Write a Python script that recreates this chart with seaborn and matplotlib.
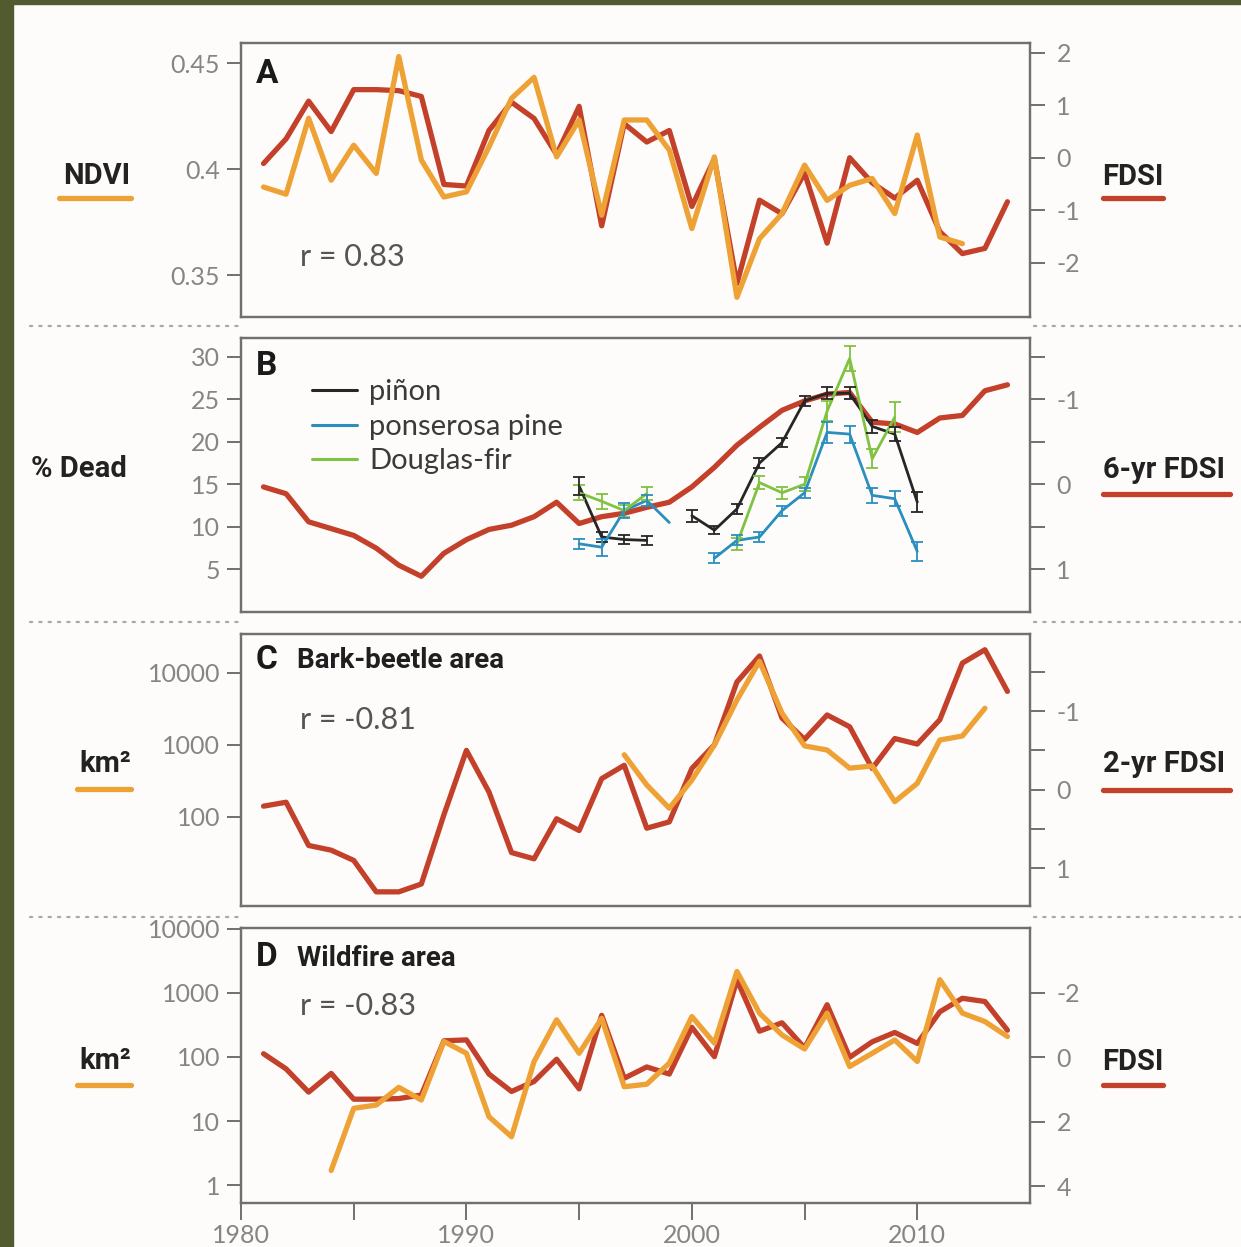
import numpy as np
import pandas as pd
import seaborn as sns
import matplotlib.pyplot as plt
from matplotlib.lines import Line2D
from matplotlib.patches import Rectangle

# ---- data ----
YEARS = list(range(1981, 2015))

# FDSI (panels A and D)
fdsi = [-0.11, 0.36, 1.08, 0.50, 1.30, 1.30, 1.28, 1.17, -0.51, -0.54,
        0.52, 1.06, 0.75, 0.06, 0.98, -1.30, 0.65, 0.30, 0.52, -0.93,
        -0.02, -2.40, -0.81, -1.07, -0.29, -1.63, 0.00, -0.48, -0.77, -0.43,
        -1.41, -1.83, -1.73, -0.84]

NDVI_YEARS = list(range(1981, 2013))
ndvi = [0.3916, 0.3882, 0.4240, 0.3948, 0.4113, 0.3980, 0.4531, 0.4043, 0.3869, 0.3893,
        0.4105, 0.4334, 0.4433, 0.4058, 0.4232, 0.3783, 0.4232, 0.4232, 0.4090, 0.3720,
        0.4058, 0.3396, 0.3672, 0.3791, 0.4019, 0.3853, 0.3924, 0.3956, 0.3791, 0.4161,
        0.3680, 0.3649]

fdsi_6yr = [0.03, 0.11, 0.44, 0.52, 0.60, 0.75, 0.95, 1.08, 0.81, 0.65,
            0.53, 0.48, 0.38, 0.21, 0.46, 0.38, 0.34, 0.27, 0.21, 0.03,
            -0.20, -0.46, -0.67, -0.87, -0.98, -1.06, -1.08, -0.73, -0.71, -0.61,
            -0.78, -0.81, -1.10, -1.17]

SP_YEARS = list(range(1995, 2011))
nan = np.nan
pinon = [14.8, 8.8, 8.5, 8.4, nan, 11.3, 9.6, 12.1, 17.5, 19.9, 24.8, 25.7, 25.7, 21.8, 20.9, 12.9]
pinon_err = [1.1, 0.6, 0.5, 0.5, nan, 0.7, 0.5, 0.6, 0.6, 0.5, 0.6, 0.7, 0.7, 0.8, 0.8, 1.2]
ponderosa = [8.0, 7.6, 11.9, 13.1, 10.5, nan, 6.3, 8.4, 8.8, 11.9, 14.0, 21.1, 20.9, 13.7, 13.3, 7.1]
ponderosa_err = [0.6, 1.0, 0.9, 0.6, nan, nan, 0.6, 0.6, 0.6, 0.6, 0.6, 1.2, 1.0, 0.9, 0.9, 1.1]
douglas = [14.0, 13.0, 11.9, 13.9, nan, nan, nan, 8.0, 15.2, 14.0, 15.0, 23.6, 29.8, 18.0, 22.9, nan]
douglas_err = [0.9, 0.9, 0.7, 0.8, nan, nan, nan, 0.7, 0.8, 0.7, 0.8, 1.2, 1.5, 1.1, 1.8, nan]

fdsi_2yr = [0.21, 0.16, 0.71, 0.77, 0.90, 1.30, 1.30, 1.20, 0.32, -0.50,
            0.03, 0.80, 0.88, 0.37, 0.52, -0.14, -0.31, 0.49, 0.41, -0.27,
            -0.57, -1.37, -1.70, -0.91, -0.64, -0.95, -0.80, -0.27, -0.65, -0.58,
            -0.89, -1.61, -1.78, -1.25]

BEETLE_YEARS = list(range(1997, 2014))
beetle_area = [730, 278, 132, 326, 1000, 4200, 14500, 2760, 970, 850,
               476, 510, 163, 293, 1170, 1330, 3230]

FIRE_YEARS = list(range(1984, 2015))
fire_area = [1.7, 15.8, 17.8, 33.6, 21.3, 174, 114, 11.7, 5.7, 84.6,
             380, 114, 400, 34.3, 37.6, 80, 426, 164, 2150, 482,
             220, 133, 482, 71, 114, 184, 85, 1600, 482, 356, 208]

# ---- style ----
sns.set_style("ticks")
plt.rcParams["font.family"] = ["Lato", "DejaVu Sans"]
plt.rcParams["axes.unicode_minus"] = False

RED = "#c3402a"
ORANGE = "#eea235"
BG = "#fdfcfa"
SPINE = "#707070"
TICKLAB = "#858585"
SP_COLORS = {"piñon": "#262626", "ponserosa pine": "#2a8fbf", "Douglas-fir": "#80c241"}

W, H = 1241, 1247
fig = plt.figure(figsize=(W / 100, H / 100), dpi=100)
fig.patch.set_facecolor(BG)


def fx(x):
    return x / W


def fy(y):
    return 1 - y / H


# olive frame
fig.add_artist(Rectangle((0, 0), fx(13), 1, transform=fig.transFigure, color="#515b2f", zorder=0))
fig.add_artist(Rectangle((0, fy(4)), 1, 1, transform=fig.transFigure, color="#515b2f", zorder=0))

LEFT, RIGHT = 241, 1030
panels_px = [(43, 317), (338, 612), (634, 906), (928, 1203)]


def make_axes(top, bottom):
    ax = fig.add_axes([fx(LEFT), fy(bottom), (RIGHT - LEFT) / W, (bottom - top) / H])
    ax2 = ax.twinx()
    ax.set_zorder(ax2.get_zorder() + 1)
    ax.patch.set_visible(False)
    ax2.patch.set_visible(True)
    ax2.patch.set_facecolor(BG)
    for a in (ax, ax2):
        for s in a.spines.values():
            s.set_visible(True)
            s.set_color(SPINE)
            s.set_linewidth(1.6)
        a.minorticks_off()
    ax.tick_params(axis="y", right=False, length=10, width=1.4, color=SPINE,
                   labelcolor=TICKLAB, labelsize=18, pad=5)
    ax2.tick_params(axis="y", length=11, width=1.4, color=SPINE,
                    labelcolor=TICKLAB, labelsize=18, pad=8)
    ax.set_xlim(1980, 2015)
    return ax, ax2


line_kw = dict(linewidth=3.8, solid_joinstyle="round", solid_capstyle="round")

axes = [make_axes(t, b) for t, b in panels_px]

# ---- Panel A ----
ax, ax2 = axes[0]
sns.lineplot(x=YEARS, y=fdsi, ax=ax2, color=RED, **line_kw)
sns.lineplot(x=NDVI_YEARS, y=ndvi, ax=ax, color=ORANGE, **line_kw)
ax.set_ylim(0.3303, 0.4595)
ax.set_yticks([0.35, 0.40, 0.45], ["0.35", "0.4", "0.45"])
ax2.set_ylim(-3.04, 2.19)
ax2.set_yticks([-2, -1, 0, 1, 2], ["-2", "-1", "0", "1", "2"])

# ---- Panel B ----
ax, ax2 = axes[1]
sns.lineplot(x=YEARS, y=fdsi_6yr, ax=ax2, color=RED, **line_kw)
sp_df = pd.DataFrame({
    "year": SP_YEARS * 3,
    "dead": pinon + ponderosa + douglas,
    "err": pinon_err + ponderosa_err + douglas_err,
    "species": ["piñon"] * 16 + ["ponserosa pine"] * 16 + ["Douglas-fir"] * 16,
})
# split each species into unbroken runs so gaps are not bridged
sp_df["seg"] = sp_df.groupby("species")["dead"].transform(lambda s: s.isna().cumsum())
plot_df = sp_df.dropna(subset=["dead"])
sns.lineplot(data=plot_df, x="year", y="dead", hue="species", units="seg", estimator=None,
             palette=SP_COLORS, ax=ax, linewidth=2.0, legend=False)
for name, grp in plot_df.groupby("species"):
    ax.errorbar(grp["year"], grp["dead"], yerr=grp["err"], fmt="none",
                ecolor=SP_COLORS[name], elinewidth=1.3, capsize=4, capthick=1.3)
ax.set_ylim(-0.02, 32.2)
ax.set_yticks([5, 10, 15, 20, 25, 30], ["5", "10", "15", "20", "25", "30"])
ax2.set_ylim(1.5, -1.72)
ax2.set_yticks([-1.5, -1, -0.5, 0, 0.5, 1], ["", "-1", "", "0", "", "1"])
handles = [Line2D([], [], color=c, lw=2.2) for c in SP_COLORS.values()]
leg = ax.legend(handles, list(SP_COLORS.keys()), loc="upper left",
                bbox_to_anchor=((312 - LEFT) / (RIGHT - LEFT), (612 - 379) / 274),
                frameon=False, fontsize=21, handlelength=1.55, handletextpad=0.4,
                labelspacing=0.3, borderaxespad=0, borderpad=0)
for t in leg.get_texts():
    t.set_color("#3a3a3a")

# ---- Panel C ----
ax, ax2 = axes[2]
sns.lineplot(x=YEARS, y=fdsi_2yr, ax=ax2, color=RED, **line_kw)
sns.lineplot(x=BEETLE_YEARS, y=beetle_area, ax=ax, color=ORANGE, **line_kw)
ax.set_yscale("log")
ax.set_ylim(10 ** 0.764, 10 ** 4.54)
ax.set_yticks([100, 1000, 10000], ["100", "1000", "10000"])
ax.minorticks_off()
ax2.set_ylim(1.48, -1.98)
ax2.set_yticks([-1.5, -1, -0.5, 0, 0.5, 1], ["", "-1", "", "0", "", "1"])

# ---- Panel D ----
ax, ax2 = axes[3]
sns.lineplot(x=YEARS, y=fdsi, ax=ax2, color=RED, **line_kw)
sns.lineplot(x=FIRE_YEARS, y=fire_area, ax=ax, color=ORANGE, **line_kw)
ax.set_yscale("log")
ax.set_ylim(10 ** -0.277, 10 ** 4.01)
ax.set_yticks([1, 10, 100, 1000, 10000], ["1", "10", "100", "1000", "10000"])
ax.minorticks_off()
ax2.set_ylim(4.52, -4.01)
ax2.set_yticks([-2, 0, 2, 4], ["-2", "0", "2", "4"])

# x axis: only bottom panel gets ticks
for i, (ax, ax2) in enumerate(axes):
    ax.set_xlim(1980, 2015)
    ax.set_xlabel("")
    ax.set_ylabel("")
    ax2.set_ylabel("")
    if i < 3:
        ax.tick_params(axis="x", bottom=False, labelbottom=False)
    else:
        ax.set_xticks([1980, 1985, 1990, 1995, 2000, 2005, 2010],
                      ["1980", "", "1990", "", "2000", "", "2010"])
        ax.tick_params(axis="x", length=12, width=1.4, color=SPINE, labelcolor=TICKLAB,
                       labelsize=18, pad=3)

# ---- panel letters, titles, r values ----
letter_kw = dict(fontsize=24, fontweight="bold", family=["Roboto", "DejaVu Sans"], color="#1a1a1a",
                 va="center", ha="left")
title_kw = dict(fontsize=20, fontweight="bold", family=["Roboto", "DejaVu Sans"], color="#1f1f1f",
                va="center", ha="left")
r_kw = dict(fontsize=22, color="#555555", va="center", ha="left")

fig.text(fx(256), fy(74), "A", **letter_kw)
fig.text(fx(256), fy(366), "B", **letter_kw)
fig.text(fx(256), fy(660), "C", **letter_kw)
fig.text(fx(297), fy(661), "Bark-beetle area", **title_kw)
fig.text(fx(256), fy(957), "D", **letter_kw)
fig.text(fx(297), fy(959), "Wildfire area", **title_kw)
fig.text(fx(300), fy(257), "r = 0.83", **r_kw)
fig.text(fx(300), fy(720), "r = -0.81", **r_kw)
fig.text(fx(300), fy(1006), "r = -0.83", **r_kw)

# ---- side labels with colour keys ----
lab_kw = dict(fontsize=21, fontweight="bold", family=["Roboto", "DejaVu Sans"], color="#222222",
              ha="center", va="center")


def key_line(x0, x1, y, color):
    fig.add_artist(Line2D([fx(x0), fx(x1)], [fy(y), fy(y)], transform=fig.transFigure,
                          color=color, lw=3.8, solid_capstyle="round"))


fig.text(fx(97), fy(176), "NDVI", **lab_kw)
key_line(59, 131, 198, ORANGE)
fig.text(fx(79), fy(469), "% Dead", **lab_kw)
fig.text(fx(105), fy(764), "km²", **lab_kw)
key_line(77, 131, 789, ORANGE)
fig.text(fx(105), fy(1061), "km²", **lab_kw)
key_line(77, 131, 1085, ORANGE)

fig.text(fx(1133), fy(177), "FDSI", **lab_kw)
key_line(1103, 1163, 198, RED)
fig.text(fx(1164), fy(470), "6-yr FDSI", **lab_kw)
key_line(1103, 1230, 494, RED)
fig.text(fx(1164), fy(764), "2-yr FDSI", **lab_kw)
key_line(1103, 1230, 790, RED)
fig.text(fx(1133), fy(1062), "FDSI", **lab_kw)
key_line(1103, 1163, 1085, RED)

# ---- dotted separators ----
for y in (326, 622, 917):
    for x0, x1 in ((30, 240), (1034, 1241)):
        fig.add_artist(Line2D([fx(x0), fx(x1)], [fy(y), fy(y)], transform=fig.transFigure,
                              color="#a8a8a8", lw=1.6, dashes=(1, 3.2), dash_capstyle="round"))

fig.savefig("out.png", dpi=100, facecolor=fig.get_facecolor())
